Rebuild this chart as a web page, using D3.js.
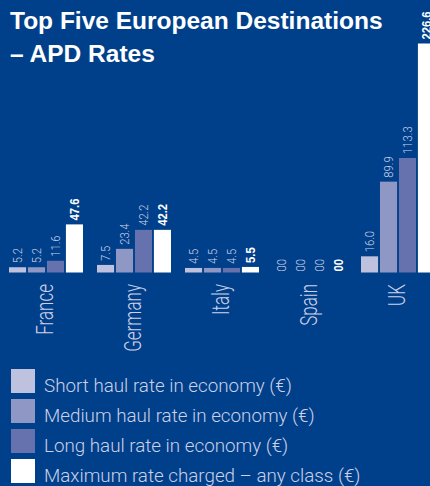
<!DOCTYPE html>
<html>
<head>
<meta charset="utf-8">
<script src="https://cdn.jsdelivr.net/npm/d3@7"></script>
<style>
  html, body { margin: 0; padding: 0; background: #00408a; overflow: hidden; }
  svg { display: block; }
</style>
</head>
<body>
<div id="chart"></div>
<script>
// data
const categories = ["France", "Germany", "Italy", "Spain", "UK"]
const seriesNames = [
    "Short haul rate in economy (€)",
    "Medium haul rate in economy (€)",
    "Long haul rate in economy (€)",
    "Maximum rate charged – any class (€)"
]
const shortHaul = [5.2, 7.5, 4.5, 0, 16.0]
const mediumHaul = [5.2, 23.4, 4.5, 0, 89.9]
const longHaul = [11.6, 42.2, 4.5, 0, 113.3]
const maxRate = [47.6, 42.2, 5.5, 0, 226.6]
const seriesColors = ["#bfc2de", "#8f97c5", "#6672ad", "#ffffff"]

const width = 430
const height = 486
const bg = "#00408a"
const labelColor = "#cdd0e8"
const lightFont = "Roboto, 'Liberation Sans', sans-serif"

const svg = d3.select("#chart")
    .append("svg")
    .attr("width", width)
    .attr("height", height)
    .attr("viewBox", [0, 0, width, height])

svg.append("rect")
    .attr("width", width)
    .attr("height", height)
    .attr("fill", bg)

// title
const title = svg.append("text")
    .attr("fill", "#ffffff")
    .attr("font-family", "'Liberation Sans', Arial, sans-serif")
    .attr("font-weight", "bold")
    .attr("font-size", 24.5)
title.append("tspan").attr("x", 10).attr("y", 29).text("Top Five European Destinations")
title.append("tspan").attr("x", 10).attr("y", 62).text("– APD Rates")

// scales
const allSeries = [shortHaul, mediumHaul, longHaul, maxRate]
const x0 = d3.scaleBand(categories, [9, 435]).paddingInner(14 / 88).paddingOuter(0)
const x1 = d3.scaleBand(d3.range(allSeries.length), [0, x0.bandwidth()]).paddingInner(0.1)
const y = d3.scaleLinear([0, 226.6], [272.5, 43.5])

const fmt = v => v === 0 ? "00" : v.toFixed(1)

const groups = svg.append("g")
    .selectAll("g")
    .data(categories)
    .join("g")
    .attr("transform", c => `translate(${x0(c)},0)`)

const cells = groups.selectAll("g")
    .data((c, ci) => allSeries.map((s, si) => ({ si, v: s[ci] })))
    .join("g")

cells.append("rect")
    .attr("x", d => x1(d.si))
    .attr("y", d => y(d.v))
    .attr("width", x1.bandwidth())
    .attr("height", d => y(0) - y(d.v))
    .attr("fill", d => seriesColors[d.si])

// value labels, rotated
cells.append("text")
    .attr("transform", d => `translate(${x1(d.si) + x1.bandwidth() / 2 + 4.5},${y(d.v) - (d.v > 0 ? 4 : 1)}) rotate(-90) scale(0.9,1)`)
    .attr("text-anchor", "start")
    .attr("font-family", d => d.si === 3 ? "'Liberation Sans', Arial, sans-serif" : lightFont)
    .attr("font-weight", d => d.si === 3 ? "bold" : 300)
    .attr("font-size", 12.5)
    .attr("fill", d => d.si === 3 ? "#ffffff" : labelColor)
    .text(d => fmt(d.v))

// category labels, rotated
svg.append("g")
    .selectAll("text")
    .data(categories)
    .join("text")
    .attr("transform", c => `translate(${x0(c) + x0.bandwidth() / 2 + 7},284) rotate(-90) scale(0.74,1)`)
    .attr("text-anchor", "end")
    .attr("font-family", lightFont)
    .attr("font-weight", 300)
    .attr("font-size", 23)
    .attr("fill", labelColor)
    .text(c => c)

// legend
const legend = svg.append("g")
    .selectAll("g")
    .data(seriesNames)
    .join("g")
    .attr("transform", (d, i) => `translate(11,${369 + i * 30})`)

legend.append("rect")
    .attr("width", 24)
    .attr("height", 24)
    .attr("fill", (d, i) => seriesColors[i])

legend.append("text")
    .attr("x", 33)
    .attr("y", 23)
    .attr("font-family", lightFont)
    .attr("font-weight", 300)
    .attr("font-size", 18.8)
    .attr("fill", labelColor)
    .text(d => d)
</script>
</body>
</html>
